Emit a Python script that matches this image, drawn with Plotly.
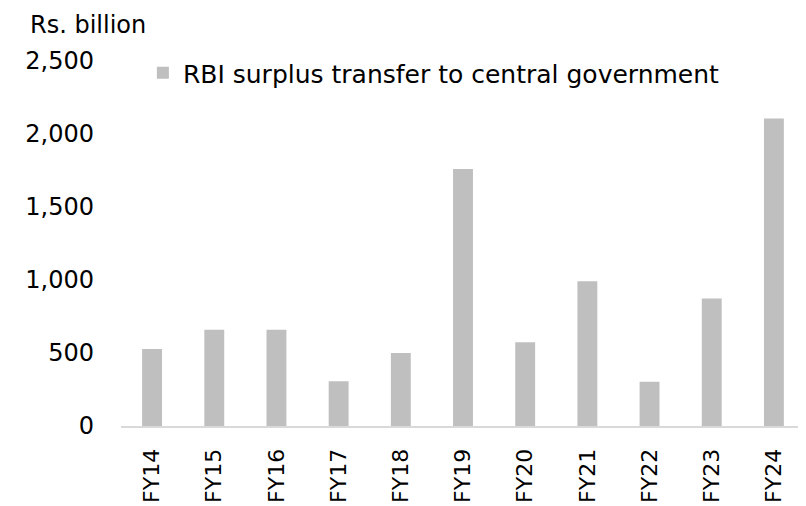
import plotly.graph_objects as go

categories = ["FY14", "FY15", "FY16", "FY17", "FY18", "FY19", "FY20", "FY21", "FY22", "FY23", "FY24"]
surplus = [527, 659, 659, 306, 500, 1760, 574, 991, 303, 874, 2107]
y_ticks = [0, 500, 1000, 1500, 2000, 2500]
y_tick_text = ["0", "500", "1,000", "1,500", "2,000", "2,500"]

FONT = "DejaVu Sans"
OFF = 8  # browser body margin
W, H = 806 - OFF, 506 - OFF
L, R, T, B = 121 - OFF, 1, 61 - OFF, 80
PW, PH = W - L - R, H - T - B

fig = go.Figure()
fig.add_trace(go.Bar(
    x=categories, y=surplus,
    name="RBI surplus transfer to central government",
    marker=dict(color="#BFBFBF", line=dict(width=0)),
))

fig.update_layout(
    width=W, height=H,
    margin=dict(l=L, r=R, t=T, b=B, autoexpand=False),
    paper_bgcolor="white", plot_bgcolor="white",
    font=dict(family=FONT, size=24, color="#000000"),
    bargap=0.68,
    showlegend=True,
    legend=dict(x=0.032, y=1 - (73 - 61) / PH, xanchor="left", yanchor="middle",
                font=dict(family=FONT, size=25, color="#000000"),
                bgcolor="rgba(0,0,0,0)", itemwidth=30),
    xaxis=dict(
        type="category", tickangle=-90, showgrid=False,
        showline=True, linecolor="#D9D9D9", linewidth=2,
        ticks="", ticklabelstandoff=12, automargin=False,
        tickfont=dict(family=FONT, size=22, color="#000000"),
    ),
    yaxis=dict(
        range=[0, 2500], tickvals=y_ticks, ticktext=y_tick_text,
        showgrid=False, zeroline=False, showline=False, ticks="",
        ticklabelstandoff=26, automargin=False,
        tickfont=dict(family=FONT, size=24, color="#000000"),
    ),
    annotations=[dict(
        text="Rs. billion", xref="paper", yref="paper",
        x=(28 - 121) / PW, y=1 + (61 - 25) / PH, xanchor="left", yanchor="middle",
        showarrow=False, font=dict(family=FONT, size=24, color="#000000"),
    )],
)

fig.write_html("out.html")
